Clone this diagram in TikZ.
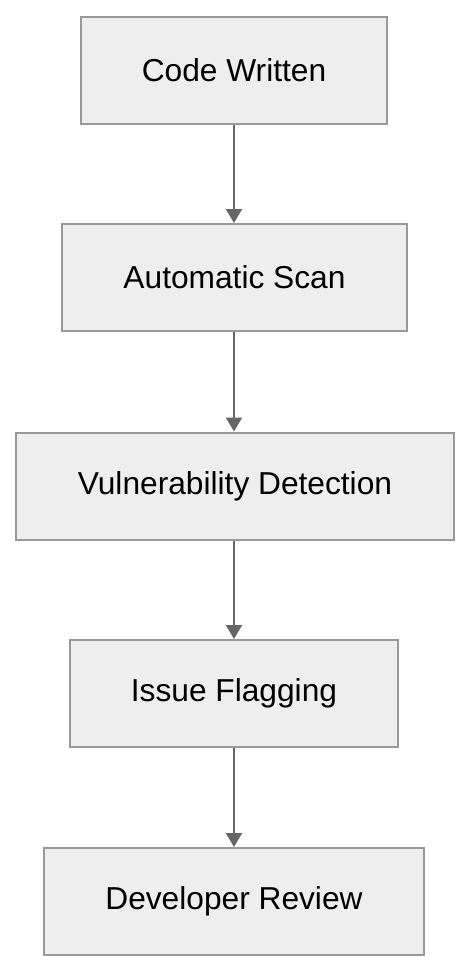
\documentclass[tikz,border=0pt]{standalone}
\usepackage{fontspec}
\setmainfont{Liberation Sans}
\usetikzlibrary{arrows.meta}
\definecolor{boxfill}{HTML}{EEEEEE}
\definecolor{boxline}{HTML}{999999}
\definecolor{arrowcol}{HTML}{666666}
\tikzset{
  stepbox/.style={draw=boxline, fill=boxfill, line width=2pt, inner sep=0pt,
    minimum height=107pt, font=\fontsize{31.7}{36}\selectfont, text=black},
  flowarrow/.style={draw=arrowcol, line width=2pt,
    -{Triangle[length=14pt,width=16pt]}, arrowcol}
}
\begin{document}
\begin{tikzpicture}[x=1pt,y=-1pt]
\useasboundingbox (0,0) rectangle (470,972);
\node[stepbox, minimum width=306pt] (a) at (234,70) {Code Written};
\node[stepbox, minimum width=345pt] (b) at (234.5,277.5) {Automatic Scan};
\node[stepbox, minimum width=438pt] (c) at (235,486) {Vulnerability Detection};
\node[stepbox, minimum width=328pt] (d) at (234,693.5) {Issue Flagging};
\node[stepbox, minimum width=380pt] (e) at (234,901.5) {Developer Review};
\draw[flowarrow] (a.south -| 234,0) -- (b.north -| 234,0);
\draw[flowarrow] (b.south -| 234,0) -- (c.north -| 234,0);
\draw[flowarrow] (c.south -| 234,0) -- (d.north -| 234,0);
\draw[flowarrow] (d.south -| 234,0) -- (e.north -| 234,0);
\end{tikzpicture}
\end{document}
